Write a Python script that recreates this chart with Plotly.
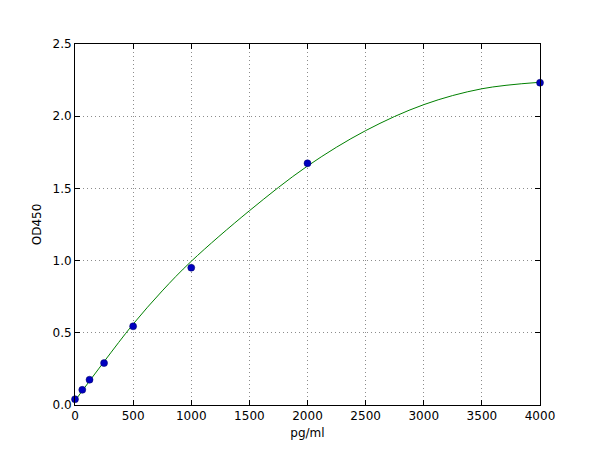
import plotly.graph_objects as go

# standard points
conc = [0, 62.5, 125, 250, 500, 1000, 2000, 4000]
od = [0.04, 0.105, 0.175, 0.29, 0.545, 0.951, 1.674, 2.232]

# fitted curve
curve_x = [0, 250, 500, 750, 1000, 1500, 2000, 2500, 3000, 3500, 4000]
curve_y = [0.03, 0.30, 0.56, 0.79, 0.995, 1.345, 1.655, 1.90, 2.08, 2.19, 2.235]

x_ticks = [0, 500, 1000, 1500, 2000, 2500, 3000, 3500, 4000]
y_ticks = [0.0, 0.5, 1.0, 1.5, 2.0, 2.5]

fig = go.Figure()

fig.add_trace(go.Scatter(
    x=curve_x, y=curve_y,
    mode="lines",
    line=dict(color="#008000", width=1, shape="spline", smoothing=1.0),
    hoverinfo="skip",
))

fig.add_trace(go.Scatter(
    x=conc, y=od,
    mode="markers",
    marker=dict(color="#0000bf", size=7, line=dict(color="#000060", width=0.5)),
    cliponaxis=False,
))

axis_style = dict(
    showline=True, linecolor="black", linewidth=1, mirror="ticks",
    ticks="inside", ticklen=5, tickcolor="black",
    showgrid=True, gridcolor="#8c8c8c", griddash="1px,3px", gridwidth=1,
    zeroline=False,
    tickfont=dict(family="DejaVu Sans", size=12, color="black"),
)

fig.update_xaxes(
    range=[0, 4000], tickvals=x_ticks,
    title=dict(text="pg/ml", font=dict(family="DejaVu Sans", size=12, color="black"), standoff=6),
    **axis_style,
)
fig.update_yaxes(
    range=[0, 2.5], tickvals=y_ticks, tickformat=".1f",
    title=dict(text="OD450", font=dict(family="DejaVu Sans", size=12, color="black"), standoff=8),
    **axis_style,
)

# page body adds an 8px offset, so margins are trimmed to land the frame where the reference has it
fig.update_layout(
    width=600, height=450,
    margin=dict(l=67, r=68, t=36, b=53),
    paper_bgcolor="white", plot_bgcolor="white",
    showlegend=False,
)

fig.write_html("out.html")
